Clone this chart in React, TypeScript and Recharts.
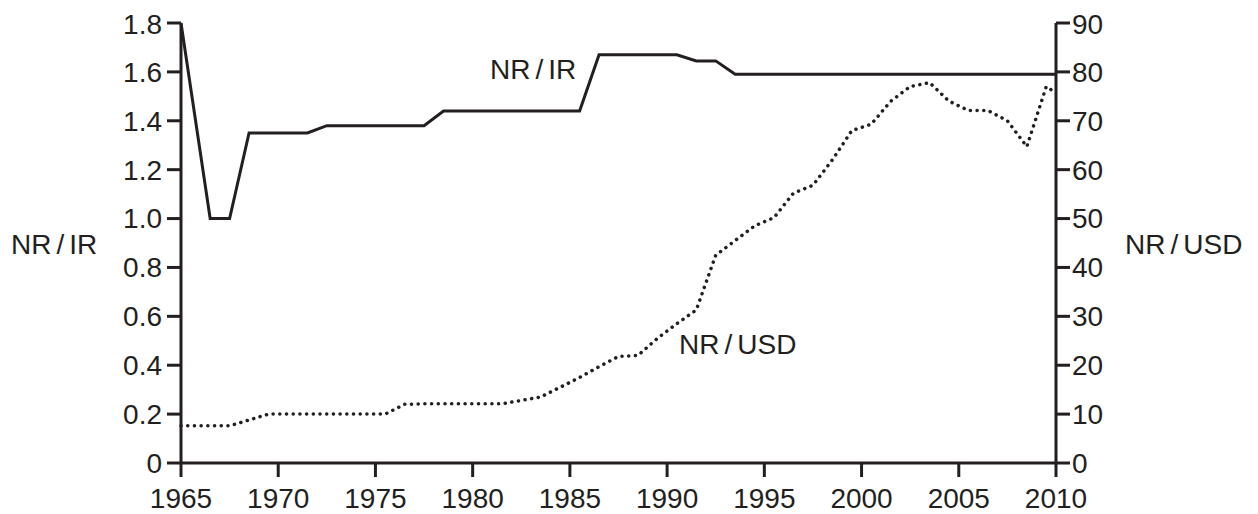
import React from 'react';
import { LineChart, Line, XAxis, YAxis } from 'recharts';

// NR/IR (left axis), points sit at mid-year
const irYears = [1965, 1966.5, 1967.5, 1968.5, 1971.5, 1972.5, 1977.5, 1978.5, 1985.5, 1986.5, 1990.5, 1991.5, 1992.5, 1993.5, 2010];
const irValues = [1.8, 1.0, 1.0, 1.35, 1.35, 1.38, 1.38, 1.44, 1.44, 1.67, 1.67, 1.645, 1.645, 1.59, 1.59];

// NR/USD (right axis)
const usdYears = [
  1965, 1965.5, 1966.5, 1967.5, 1968.5, 1969.5, 1970.5, 1971.5, 1972.5, 1973.5, 1974.5, 1975.5, 1976.5,
  1977.5, 1978.5, 1979.5, 1980.5, 1981.5, 1982.5, 1983.5, 1984.5, 1985.5, 1986.5, 1987.5, 1988.5,
  1989.5, 1990.5, 1991.5, 1992.5, 1993.5, 1994.5, 1995.5, 1996.5, 1997.5, 1998.5, 1999.5, 2000.5,
  2001.5, 2002.5, 2003.5, 2004.5, 2005.5, 2006.5, 2007.5, 2008.5, 2009.5, 2010,
];
const usdValues = [
  7.6, 7.6, 7.6, 7.6, 8.8, 10, 10, 10, 10, 10, 10, 10, 12,
  12.1, 12.1, 12.1, 12.1, 12.1, 12.8, 13.5, 15.5, 17.5, 19.7, 21.8, 22,
  25.5, 28.5, 31.3, 42.5, 45.5, 48.5, 50.2, 55.2, 56.8, 62, 68, 69.3,
  74, 77, 77.8, 74, 72.1, 72.1, 70, 64.7, 77, 75.7,
];

const xTicks = [1965, 1970, 1975, 1980, 1985, 1990, 1995, 2000, 2005, 2010];
const leftTicks = [0, 0.2, 0.4, 0.6, 0.8, 1.0, 1.2, 1.4, 1.6, 1.8];
const rightTicks = [0, 10, 20, 30, 40, 50, 60, 70, 80, 90];

const irData = irYears.map((year, i) => ({ year, value: irValues[i] }));
const usdData = usdYears.map((year, i) => ({ year, value: usdValues[i] }));

const ink = '#231f20';
const font = '"Liberation Sans", Arial, sans-serif';
const tickStyle = { fill: ink, fontSize: 28, fontFamily: font };
const axisLine = { stroke: ink, strokeWidth: 3 };

const labelStyle: React.CSSProperties = {
  position: 'absolute',
  fontFamily: font,
  fontSize: 28,
  lineHeight: '28px',
  color: ink,
  whiteSpace: 'nowrap',
};

const Slash = () => <span style={{ margin: '0 5px' }}>/</span>;

export default function App() {
  return (
    <div style={{ position: 'relative', width: 1242, height: 506 }}>
      <LineChart width={1242} height={506} margin={{ top: 15, right: 0, left: 0, bottom: 0 }}>
        <XAxis
          dataKey="year"
          type="number"
          domain={[1965, 2010]}
          ticks={xTicks}
          allowDuplicatedCategory={false}
          height={51}
          tickSize={14}
          tickMargin={11}
          tick={tickStyle}
          axisLine={axisLine}
          tickLine={axisLine}
        />
        <YAxis
          yAxisId="left"
          domain={[0, 1.8]}
          ticks={leftTicks}
          width={173}
          tickSize={14}
          tickMargin={5}
          tick={tickStyle}
          tickFormatter={(v: number) => (v === 0 ? '0' : v.toFixed(1))}
          axisLine={axisLine}
          tickLine={axisLine}
        />
        <YAxis
          yAxisId="right"
          orientation="right"
          domain={[0, 90]}
          ticks={rightTicks}
          width={194}
          tickSize={14}
          tickMargin={2}
          tick={tickStyle}
          axisLine={axisLine}
          tickLine={axisLine}
        />
        <Line
          yAxisId="left"
          data={irData}
          dataKey="value"
          type="linear"
          stroke={ink}
          strokeWidth={3}
          dot={false}
          activeDot={false}
          isAnimationActive={false}
        />
        <Line
          yAxisId="right"
          data={usdData}
          dataKey="value"
          type="linear"
          stroke={ink}
          strokeWidth={3.5}
          strokeDasharray="0.1 6.6"
          strokeLinecap="round"
          dot={false}
          activeDot={false}
          isAnimationActive={false}
        />
      </LineChart>
      <div style={{ ...labelStyle, left: 3, top: 223 }}>NR<Slash />IR</div>
      <div style={{ ...labelStyle, left: 1117, top: 223 }}>NR<Slash />USD</div>
      <div style={{ ...labelStyle, left: 482, top: 48 }}>NR<Slash />IR</div>
      <div style={{ ...labelStyle, left: 671, top: 323 }}>NR<Slash />USD</div>
    </div>
  );
}
